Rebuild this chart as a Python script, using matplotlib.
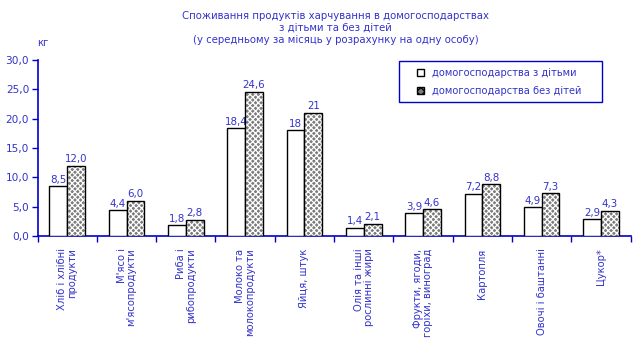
import matplotlib
matplotlib.use("Agg")
import matplotlib.pyplot as plt
import numpy as np
from matplotlib.patches import Rectangle

categories = [
    "Хліб і хлібні\nпродукти",
    "М'ясо і\nм'ясопродукти",
    "Риба і\nрибопродукти",
    "Молоко та\nмолокопродукти",
    "Яйця, штук",
    "Олія та інші\nрослинні жири",
    "Фрукти, ягоди,\nгоріхи, виноград",
    "Картопля",
    "Овочі і баштанні",
    "Цукор*",
]
with_children = [8.5, 4.4, 1.8, 18.4, 18, 1.4, 3.9, 7.2, 4.9, 2.9]
without_children = [12.0, 6.0, 2.8, 24.6, 21, 2.1, 4.6, 8.8, 7.3, 4.3]
labels_with = ["8,5", "4,4", "1,8", "18,4", "18", "1,4", "3,9", "7,2", "4,9", "2,9"]
labels_without = ["12,0", "6,0", "2,8", "24,6", "21", "2,1", "4,6", "8,8", "7,3", "4,3"]
series_names = ["домогосподарства з дітьми", "домогосподарства без дітей"]
title = ("Споживання продуктів харчування в домогосподарствах\n"
         "з дітьми та без дітей\n"
         "(у середньому за місяць у розрахунку на одну особу)")
yticks = [0, 5, 10, 15, 20, 25, 30]

TXT = "#3333CC"
AX = "#0000CC"
HATCH_FACE = "#7c7c7c"
plt.rcParams['font.family'] = ['DejaVu Sans']
plt.rcParams['hatch.linewidth'] = 0.9

fig = plt.figure(figsize=(6.37, 3.46), dpi=100)
ax = fig.add_axes([0.059, 0.318, 0.931, 0.509])

x = np.arange(len(categories))
w = 0.3
ax.bar(x - w / 2, with_children, w, facecolor="white", edgecolor="black", linewidth=1.0, zorder=3)
ax.bar(x + w / 2, without_children, w, facecolor=HATCH_FACE, edgecolor="white",
       linewidth=0, hatch="xxxxxx", zorder=3)
ax.bar(x + w / 2, without_children, w, facecolor="none", edgecolor="black", linewidth=1.0, zorder=4)

for xi, v, s in zip(x - w / 2, with_children, labels_with):
    ax.annotate(s, (xi, v), xytext=(0, 1), textcoords="offset points",
                ha="center", va="bottom", color=TXT, fontsize=7.4)
for xi, v, s in zip(x + w / 2, without_children, labels_without):
    ax.annotate(s, (xi, v), xytext=(0, 1), textcoords="offset points",
                ha="center", va="bottom", color=TXT, fontsize=7.4)

ax.set_xlim(-0.5, len(categories) - 0.5)
ax.set_ylim(0, 30)
ax.set_yticks(yticks)
ax.set_yticklabels([f"{v:.1f}".replace(".", ",") for v in yticks], color=TXT, fontsize=7.6)
ax.set_xticks(x)
ax.set_xticklabels(categories, rotation=90, ha="center", va="top", multialignment="right",
                   color=TXT, fontsize=7.2, linespacing=1.0)
ax.set_xticks(np.arange(len(categories) + 1) - 0.5, minor=True)
ax.tick_params(axis="x", which="major", length=0, pad=9)
ax.tick_params(axis="x", which="minor", length=4, color=AX, direction="out", width=1)
ax.tick_params(axis="y", length=4, color=AX, direction="out", width=1, pad=2)

for side in ["top", "right"]:
    ax.spines[side].set_visible(False)
for side in ["left", "bottom"]:
    ax.spines[side].set_color(AX)
    ax.spines[side].set_linewidth(1.2)

fig.text(0.527, 1 - 28 / 346, title, ha="center", va="center", color=TXT, fontsize=7.3,
         linespacing=1.2)
fig.text(37 / 637, 1 - 43 / 346, "кг", ha="left", va="center", color=TXT, fontsize=7.2)

# legend frame
fig.patches.append(Rectangle((399 / 637, 1 - 102 / 346), 203 / 637, 41 / 346,
                             transform=fig.transFigure, facecolor="white", edgecolor=AX,
                             linewidth=1.0, zorder=5))
h1 = Rectangle((0, 0), 1, 1, facecolor="white", edgecolor="black", linewidth=1.0)
h2 = Rectangle((0, 0), 1, 1, facecolor=HATCH_FACE, edgecolor="black", linewidth=1.0, hatch="xxxx")
leg = fig.legend([h1, h2], series_names, loc="center",
                 bbox_to_anchor=(499 / 637, 1 - 82 / 346),
                 fontsize=7.1, frameon=False, handlelength=0.7, handleheight=0.7,
                 handletextpad=0.8, borderpad=0.0, labelspacing=0.75, borderaxespad=0)
leg.set_zorder(6)
for t in leg.get_texts():
    t.set_color(TXT)

fig.savefig("out.png", dpi=100)
